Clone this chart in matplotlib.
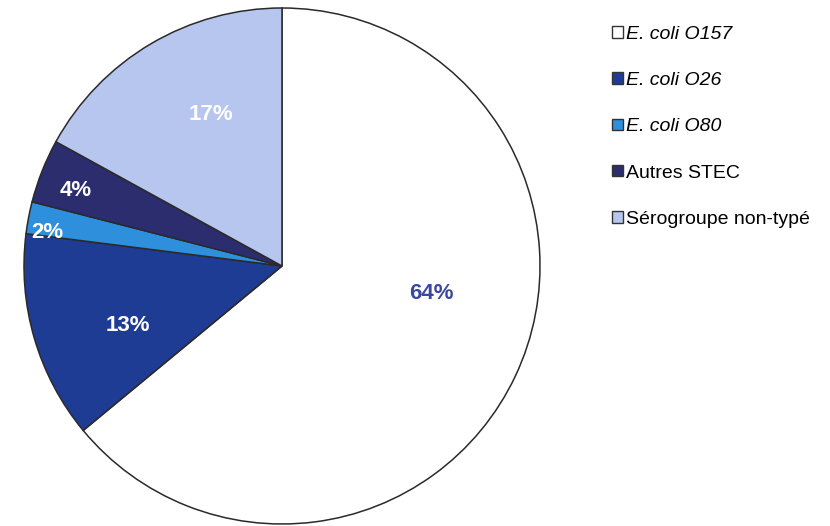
import matplotlib.pyplot as plt
import numpy as np

plt.rcParams['font.family'] = ['Liberation Sans', 'DejaVu Sans']

# data
categories = ['E. coli O157', 'E. coli O26', 'E. coli O80', 'Autres STEC', 'Sérogroupe non-typé']
shares = [64, 13, 2, 4, 17]
italic = [True, True, True, False, False]

colors = ['#ffffff', '#1f3c94', '#2e8fdc', '#2b2d6e', '#b7c6ee']
label_colors = ['#3a46a0', 'white', 'white', 'white', 'white']
# label placement (fraction of radius, angle in degrees)
label_pos = [(0.59, -10.5), (0.64, 201.0), (0.92, 172.0), (0.85, 160.0), (0.65, 115.0)]

fig = plt.figure(figsize=(8.30, 5.26), dpi=100)
ax = fig.add_axes([24 / 830, 2 / 526, 516 / 830, 516 / 526])

wedges, _ = ax.pie(shares, colors=colors, startangle=90, counterclock=False,
                   wedgeprops=dict(edgecolor='#2a2a2a', linewidth=1.1))
ax.set_aspect('equal')
ax.set_xlim(-1.0, 1.0)
ax.set_ylim(-1.0, 1.0)

for s, (r, a), c in zip(shares, label_pos, label_colors):
    ax.text(r * np.cos(np.radians(a)), r * np.sin(np.radians(a)), f'{s}%',
            ha='center', va='center', fontsize=16, fontweight='bold', color=c)

leg = fig.legend(wedges, categories, loc='upper left', bbox_to_anchor=(612 / 830, 1 - 26 / 526),
                 frameon=False, fontsize=14, labelspacing=1.5, handlelength=0.55,
                 handleheight=0.55, handletextpad=0.15, borderpad=0, borderaxespad=0)
for t, it in zip(leg.get_texts(), italic):
    if it:
        t.set_fontstyle('italic')
for h in leg.legend_handles:
    h.set_edgecolor('#333333')
    h.set_linewidth(1.0)

fig.savefig('out.png', dpi=100)
